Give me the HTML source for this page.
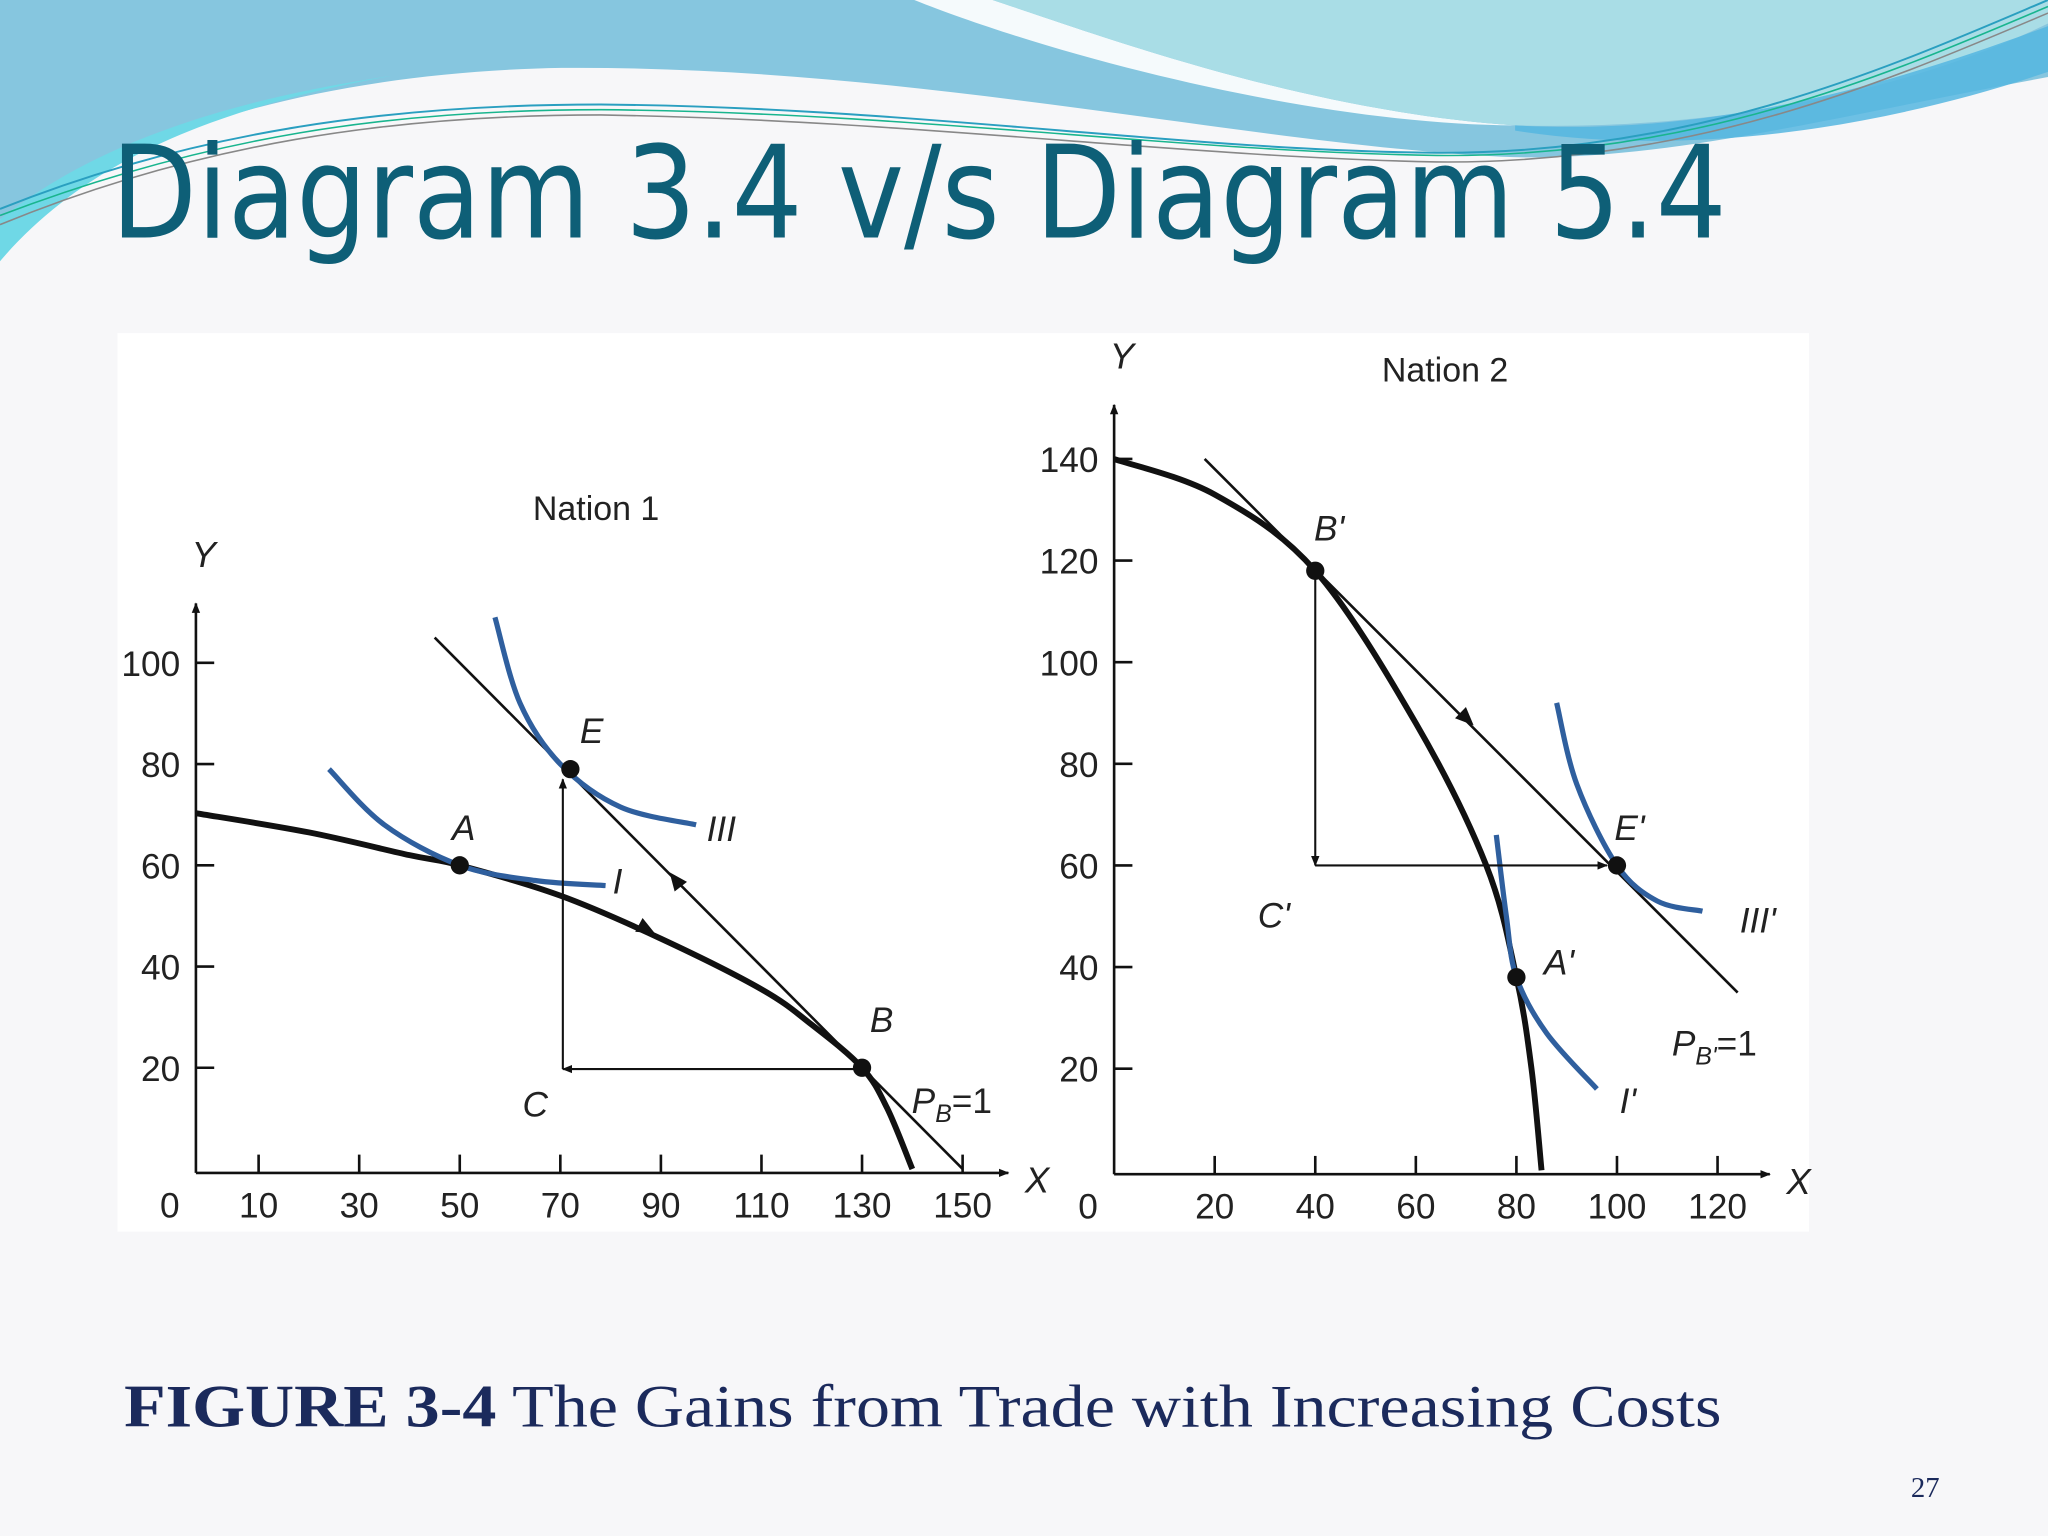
<!DOCTYPE html>
<html><head><meta charset="utf-8"><style>
html,body{margin:0;padding:0;background:#f7f7f9;}
svg{display:block;}
</style></head><body>
<svg width="2048" height="1536" viewBox="0 0 1568 1176" xmlns="http://www.w3.org/2000/svg">
<rect x="0" y="0" width="1568" height="1176" fill="#f7f7f9"/>
<g>
<path d="M0,0 H1568 V59 C1400,90 1270,125 1150,120 C950,110 700,50 430,52 C250,55 100,100 0,168 Z" fill="#86c6df"/>
<path d="M0,168 C60,120 150,80 300,58 C150,85 60,130 0,200 Z" fill="#6fd8e6"/>
<path d="M700,0 H760 C850,30 1000,85 1160,96 C1000,95 800,40 700,0 Z" fill="#f5fafc"/>
<path d="M760,0 H1568 V18 C1450,75 1300,100 1160,96 C1000,85 850,30 760,0 Z" fill="#a9dde6"/>
<path d="M1160,96 C1320,105 1460,60 1568,20 V55 C1450,95 1300,122 1160,100 Z" fill="#55b6e0" opacity="0.85"/>
<path d="M0,160 C150,100 300,80 460,80 C700,82 900,115 1100,117 C1300,118 1450,50 1568,0" fill="none" stroke="#2a9fc0" stroke-width="1.5"/>
<path d="M0,172 C150,110 300,88 460,88 C700,92 900,120 1100,124 C1300,126 1450,60 1568,10" fill="none" stroke="#888" stroke-width="1.2"/>
<path d="M0,165 C160,104 300,84 460,84 C700,86 900,116 1100,119 C1300,121 1450,55 1568,5" fill="none" stroke="#19b58e" stroke-width="1.2"/>
</g>
<text x="85" y="182" font-family="'DejaVu Sans Condensed','Liberation Sans',sans-serif" font-size="98" fill="#0e5f77" textLength="1237" lengthAdjust="spacingAndGlyphs">Diagram 3.4 v/s Diagram 5.4</text>
<rect x="90" y="255" width="1295" height="688" fill="#ffffff"/>
<g id="charts" font-family="'Liberation Sans',sans-serif" fill="#222"></g>
<text x="95" y="1092" font-family="'Liberation Serif',serif" font-size="46" fill="#1b2a5c" textLength="1223" lengthAdjust="spacingAndGlyphs"><tspan font-weight="bold">FIGURE 3-4</tspan> The Gains from Trade with Increasing Costs</text>
<text x="1463" y="1146" font-family="'Liberation Serif',serif" font-size="22" fill="#1b2a5c">27</text>
</svg>
<script>
// Nation 1 data
const n1XTicks=[10,30,50,70,90,110,130,150];
const n1YTicks=[20,40,60,80,100];
const n1PPF=[[-2.5,70.3],[20,66.5],[40,62],[50,60],[70,54],[90,45.5],[110,35.5],[120,28.5],[130,20],[135,12],[140,0]];
const n1Trade=[[45,105],[150,0]];
const n1IndI=[[24,79],[35,68],[50,60],[65,57],[79,56]];
const n1IndIII=[[57,109],[62,92],[70,80],[82,71.5],[97,68]];
const n1Points=[["A",50,60],["E",72,79],["B",130,20]];
// Nation 2 data
const n2XTicks=[20,40,60,80,100,120];
const n2YTicks=[20,40,60,80,100,120,140];
const n2PPF=[[0,140],[20,133],[40,118],[60,88],[74,60],[80,38],[83,20],[85,0]];
const n2Trade=[[18,140],[124,35]];
const n2IndI=[[76,66],[78,50],[80,38],[86,27],[96,16]];
const n2IndIII=[[88,92],[92,76],[100,60],[108,53],[117,51]];
const n2Points=[["B'",40,118],["E'",100,60],["A'",80,38]];

const NS='http://www.w3.org/2000/svg';
const root=document.getElementById('charts');
function mk(tag,attrs,parent){const e=document.createElementNS(NS,tag);for(const k in attrs)e.setAttribute(k,attrs[k]);(parent||root).appendChild(e);return e;}
function axes(x0,px,y0,py){return {X:v=>x0+v*px,Y:v=>y0-v*py};}
function pathD(a,s){return a.map((p,i)=>(i?'L':'M')+s.X(p[0]).toFixed(1)+','+s.Y(p[1]).toFixed(1)).join(' ');}
function smooth(a,s){const P=a.map(p=>[s.X(p[0]),s.Y(p[1])]);let d='M'+P[0][0]+','+P[0][1];for(let i=0;i<P.length-1;i++){const p0=P[i-1]||P[i],p1=P[i],p2=P[i+1],p3=P[i+2]||p2;d+=' C'+(p1[0]+(p2[0]-p0[0])/6)+','+(p1[1]+(p2[1]-p0[1])/6)+' '+(p2[0]-(p3[0]-p1[0])/6)+','+(p2[1]-(p3[1]-p1[1])/6)+' '+p2[0]+','+p2[1];}return d;}
mk('defs',{}).innerHTML='<marker id="ah" viewBox="0 0 10 10" refX="9" refY="5" markerWidth="8" markerHeight="8" orient="auto-start-reverse" markerUnits="userSpaceOnUse"><path d="M0,1 L10,5 L0,9 Z" fill="#111"/></marker>';
function tri(x,y,ang,name){const t=mk('path',{d:'M8,0 L-6,-6 L-6,6 Z',fill:'#111',transform:`translate(${x},${y}) rotate(${ang})`});}

function chart(prefix,s,xT,yT,xEnd,yTop,axisX0){
  const g=mk('g',{});
  const xa=mk('line',{x1:axisX0,y1:s.Y(0)+3,x2:xEnd,y2:s.Y(0)+3,stroke:'#111','stroke-width':2,'marker-end':'url(#ah)'},g);
  
  const ya=mk('line',{x1:axisX0,y1:s.Y(0)+3,x2:axisX0,y2:yTop,stroke:'#111','stroke-width':2,'marker-end':'url(#ah)'},g);
  
  xT.forEach(v=>{const t=mk('line',{x1:s.X(v),x2:s.X(v),y1:s.Y(0)+3,y2:s.Y(0)-11,stroke:'#111','stroke-width':2},g);
    const l=mk('text',{x:s.X(v),y:s.Y(0)+37,'text-anchor':'middle','font-size':27},g);l.textContent=v;});
  yT.forEach(v=>{const t=mk('line',{x1:axisX0,x2:axisX0+14,y1:s.Y(v),y2:s.Y(v),stroke:'#111','stroke-width':2},g);
    const l=mk('text',{x:axisX0-12,y:s.Y(v)+10,'text-anchor':'end','font-size':27},g);l.textContent=v;});
  const z=mk('text',{x:axisX0-20,y:s.Y(0)+37,'text-anchor':'middle','font-size':27},g);z.textContent='0';
  const xl=mk('text',{x:xEnd+22,y:s.Y(0)+18,'font-size':28,'font-style':'italic','text-anchor':'middle'},g);xl.textContent='X';
  const yl=mk('text',{x:axisX0+6,y:yTop-28,'font-size':28,'font-style':'italic','text-anchor':'middle'},g);yl.textContent='Y';
  return g;
}
function lbl(g,txt,x,y,name,sz,it){const t=mk('text',{x:x,y:y,'font-size':sz||27,'font-style':it===false?'normal':'italic'},g);t.textContent=txt;return t;}

// Nation 1
const s1=axes(159.5,3.85,895,3.875);
const g1=chart('nation1',s1,n1XTicks,n1YTicks,772,462,150);
lbl(g1,'Nation 1',408,398,'nation1-title',26,false);
let e;
e=mk('path',{d:smooth(n1PPF,s1),fill:'none',stroke:'#111','stroke-width':4.5},g1);
e=mk('path',{d:pathD(n1Trade,s1),fill:'none',stroke:'#111','stroke-width':2},g1);
e=mk('path',{d:smooth(n1IndI,s1),fill:'none',stroke:'#2f5f9e','stroke-width':4},g1);
e=mk('path',{d:smooth(n1IndIII,s1),fill:'none',stroke:'#2f5f9e','stroke-width':4},g1);
const c1x=s1.X(70.5);
e=mk('line',{x1:s1.X(130)-6,y1:s1.Y(20)+1,x2:c1x,y2:s1.Y(20)+1,stroke:'#111','stroke-width':1.6,'marker-end':'url(#ah)'},g1);
e=mk('line',{x1:c1x,y1:s1.Y(20)+1,x2:c1x,y2:s1.Y(77),stroke:'#111','stroke-width':1.6,'marker-end':'url(#ah)'},g1);
tri(s1.X(87),s1.Y(47.5),28,'nation1-ppf-direction-arrow');
tri(s1.X(93),s1.Y(57),-128,'nation1-trade-direction-arrow');
n1Points.forEach(p=>{const c=mk('circle',{cx:s1.X(p[1]),cy:s1.Y(p[2]),r:7,fill:'#111'},g1);});
lbl(g1,'A',346,643,'nation1-label-A');lbl(g1,'E',444,569,'nation1-label-E');lbl(g1,'B',666,790,'nation1-label-B');
lbl(g1,'C',400,855,'nation1-label-C');lbl(g1,'I',469,684,'nation1-label-I');lbl(g1,'III',541,644,'nation1-label-III');
e=lbl(g1,'P',698,852,'nation1-price-label');e.innerHTML='P<tspan font-size="19" dy="7">B</tspan><tspan font-style="normal" dy="-7">=1</tspan>';

// Nation 2
const s2=axes(853,3.85,896,3.89);
const g2=chart('nation2',s2,n2XTicks,n2YTicks,1355,310,853);
lbl(g2,'Nation 2',1058,292,'nation2-title',26,false);
e=mk('path',{d:smooth(n2PPF,s2),fill:'none',stroke:'#111','stroke-width':4.5},g2);
e=mk('path',{d:pathD(n2Trade,s2),fill:'none',stroke:'#111','stroke-width':2},g2);
e=mk('path',{d:smooth(n2IndI,s2),fill:'none',stroke:'#2f5f9e','stroke-width':4},g2);
e=mk('path',{d:smooth(n2IndIII,s2),fill:'none',stroke:'#2f5f9e','stroke-width':4},g2);
e=mk('line',{x1:s2.X(40),y1:s2.Y(118),x2:s2.X(40),y2:s2.Y(60),stroke:'#111','stroke-width':1.6,'marker-end':'url(#ah)'},g2);
e=mk('line',{x1:s2.X(40),y1:s2.Y(60),x2:s2.X(98),y2:s2.Y(60),stroke:'#111','stroke-width':1.6,'marker-end':'url(#ah)'},g2);
tri(s2.X(70),s2.Y(89),44,'nation2-trade-direction-arrow');
n2Points.forEach(p=>{const c=mk('circle',{cx:s2.X(p[1]),cy:s2.Y(p[2]),r:7,fill:'#111'},g2);});
lbl(g2,"B'",1006,414,'nation2-label-B-prime');lbl(g2,"E'",1236,643,'nation2-label-E-prime');lbl(g2,"A'",1182,746,'nation2-label-A-prime');
lbl(g2,"C'",963,710,'nation2-label-C-prime');lbl(g2,"I'",1240,852,'nation2-label-I-prime');lbl(g2,"III'",1332,714,'nation2-label-III-prime');
e=lbl(g2,'P',1280,808,'nation2-price-label');e.innerHTML="P<tspan font-size=\"19\" dy=\"7\">B'</tspan><tspan font-style=\"normal\" dy=\"-7\">=1</tspan>";
</script>
</body></html>
